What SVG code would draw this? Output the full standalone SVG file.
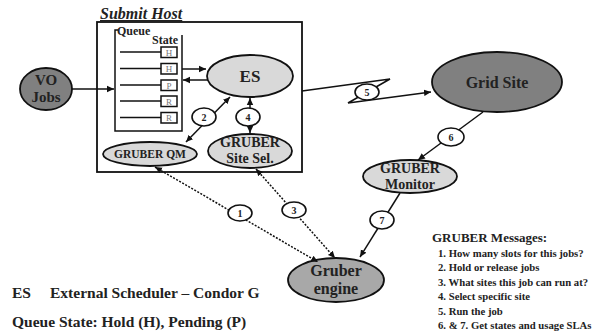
<svg xmlns="http://www.w3.org/2000/svg" width="597" height="331" viewBox="0 0 597 331" font-family="'Liberation Serif', 'Times New Roman', serif">
<style>
text{font-weight:bold;fill:#222}
.node{stroke:#111;stroke-width:1.8}
.light{fill:#d9d9d9}
.dark{fill:#808080}
.mid{fill:#a8a8a8}
.num{fill:#fff;stroke:#111;stroke-width:1.6}
.numt{font-size:10px;text-anchor:middle}
.ln{stroke:#111;stroke-width:1.5;fill:none}
.dot{stroke:#111;stroke-width:1.5;fill:none;stroke-dasharray:2,1.5}
.box{fill:#fff;stroke:#111;stroke-width:1.5}
.st{font-size:9px;fill:#777;text-anchor:middle;font-weight:normal}
.lab{text-anchor:middle}
.msg{font-size:10.7px}
.leg{font-size:15.5px}
</style>
<defs>
<marker id="ah" markerWidth="8" markerHeight="8" refX="7" refY="4" orient="auto-start-reverse" markerUnits="userSpaceOnUse">
<path d="M0,0.8 L7,4 L0,7.2 Z" fill="#111"/>
</marker>
</defs>

<g id="submit-host">
<rect x="97" y="22" width="205" height="150" fill="none" stroke="#111" stroke-width="1.8"/>
<text x="100" y="19" font-size="16" font-style="italic" text-decoration="underline">Submit Host</text>
</g>

<g id="queue">
<path d="M118,30 L115,30 L115,131 L182,131 L182,35" class="ln" stroke-width="1.8"/>
<text x="117" y="35" font-size="12">Queue</text>
<text x="152" y="44" font-size="12">State</text>
<g class="ln">
<line x1="120" y1="52" x2="161" y2="52"/>
<line x1="120" y1="68.5" x2="161" y2="68.5"/>
<line x1="120" y1="85" x2="161" y2="85"/>
<line x1="120" y1="101" x2="161" y2="101"/>
<line x1="120" y1="117.5" x2="161" y2="117.5"/>
</g>
<rect class="box" x="161" y="47" width="16" height="10.5"/>
<rect class="box" x="161" y="63.5" width="16" height="10.5"/>
<rect class="box" x="161" y="80" width="16" height="10.5"/>
<rect class="box" x="161" y="96" width="16" height="10.5"/>
<rect class="box" x="161" y="112.5" width="16" height="10.5"/>
<text class="st" x="169" y="55.5">H</text>
<text class="st" x="169" y="72">H</text>
<text class="st" x="169" y="88.5">P</text>
<text class="st" x="169" y="104.5">R</text>
<text class="st" x="169" y="121">R</text>
</g>

<g id="vo-jobs">
<ellipse class="node dark" cx="46" cy="89" rx="26" ry="21"/>
<text class="lab" x="46" y="85" font-size="15">VO</text>
<text class="lab" x="46" y="102" font-size="15">Jobs</text>
</g>

<g id="es">
<ellipse class="node light" cx="250" cy="76" rx="43" ry="21"/>
<text class="lab" x="250" y="82" font-size="17">ES</text>
</g>

<g id="gruber-qm">
<ellipse class="node light" cx="150" cy="154" rx="47" ry="12"/>
<text class="lab" x="150" y="158" font-size="11.5">GRUBER QM</text>
</g>

<g id="gruber-site-sel">
<ellipse class="node light" cx="250" cy="151" rx="42" ry="17"/>
<text class="lab" x="250" y="147" font-size="14">GRUBER</text>
<text class="lab" x="250" y="162.5" font-size="14">Site Sel.</text>
</g>

<g id="grid-site">
<ellipse class="node dark" cx="497" cy="82" rx="65" ry="30"/>
<text class="lab" x="497" y="88" font-size="16">Grid Site</text>
</g>

<g id="gruber-monitor">
<ellipse class="node light" cx="410" cy="176.5" rx="47" ry="16.5"/>
<text class="lab" x="410" y="173" font-size="14">GRUBER</text>
<text class="lab" x="410" y="188.5" font-size="14">Monitor</text>
</g>

<g id="gruber-engine">
<ellipse class="node mid" cx="336" cy="280" rx="48" ry="22"/>
<text class="lab" x="336" y="276" font-size="16">Gruber</text>
<text class="lab" x="336" y="294" font-size="16">engine</text>
</g>

<g id="connectors">
<line class="ln" x1="72" y1="89" x2="114" y2="89" marker-end="url(#ah)"/>
<line class="ln" x1="182" y1="69" x2="206" y2="69" marker-end="url(#ah)"/>
<line class="ln" x1="208" y1="80" x2="183" y2="80" marker-end="url(#ah)"/>
<line class="ln" x1="186" y1="142" x2="230" y2="97" marker-start="url(#ah)" marker-end="url(#ah)"/>
<line class="ln" x1="250" y1="98" x2="250" y2="133" marker-start="url(#ah)" marker-end="url(#ah)"/>
<polyline class="ln" points="302,91 390,79 348,103 431,92" marker-end="url(#ah)"/>
<line class="ln" x1="483" y1="112" x2="418" y2="160" marker-end="url(#ah)"/>
<line class="ln" x1="400" y1="193" x2="360" y2="257" marker-end="url(#ah)" stroke-width="2"/>
<line class="dot" x1="155" y1="167" x2="318" y2="262" marker-start="url(#ah)" marker-end="url(#ah)"/>
<line class="dot" x1="256" y1="169" x2="335" y2="258" marker-start="url(#ah)" marker-end="url(#ah)"/>

<ellipse class="num" cx="204" cy="117" rx="12" ry="9"/>
<text class="numt" x="204" y="120.5">2</text>
<ellipse class="num" cx="248" cy="117" rx="12" ry="9"/>
<text class="numt" x="248" y="120.5">4</text>
<ellipse class="num" cx="367" cy="92" rx="12" ry="8"/>
<text class="numt" x="367" y="95.5">5</text>
<ellipse class="num" cx="451" cy="137" rx="13" ry="9"/>
<text class="numt" x="451" y="140.5">6</text>
<ellipse class="num" cx="382" cy="220" rx="12" ry="9"/>
<text class="numt" x="382" y="223.5">7</text>
<ellipse class="num" cx="240" cy="213" rx="12" ry="8"/>
<text class="numt" x="240" y="216.5">1</text>
<ellipse class="num" cx="294" cy="210" rx="12" ry="8"/>
<text class="numt" x="294" y="213.5">3</text>
</g>

<g id="legend">
<text class="leg" x="12" y="298">ES</text>
<text class="leg" x="50" y="298">External Scheduler – Condor G</text>
<text class="leg" x="12" y="327">Queue State: Hold (H), Pending (P)</text>
</g>

<g id="messages">
<text x="432" y="242" font-size="13">GRUBER Messages:</text>
<text class="msg" x="438" y="257">1. How many slots for this jobs?</text>
<text class="msg" x="438" y="271">2. Hold or release jobs</text>
<text class="msg" x="438" y="286">3. What sites this job can run at?</text>
<text class="msg" x="438" y="300">4. Select specific site</text>
<text class="msg" x="438" y="315">5. Run the job</text>
<text class="msg" x="438" y="329">6. &amp; 7. Get states and usage SLAs</text>
</g>
</svg>
